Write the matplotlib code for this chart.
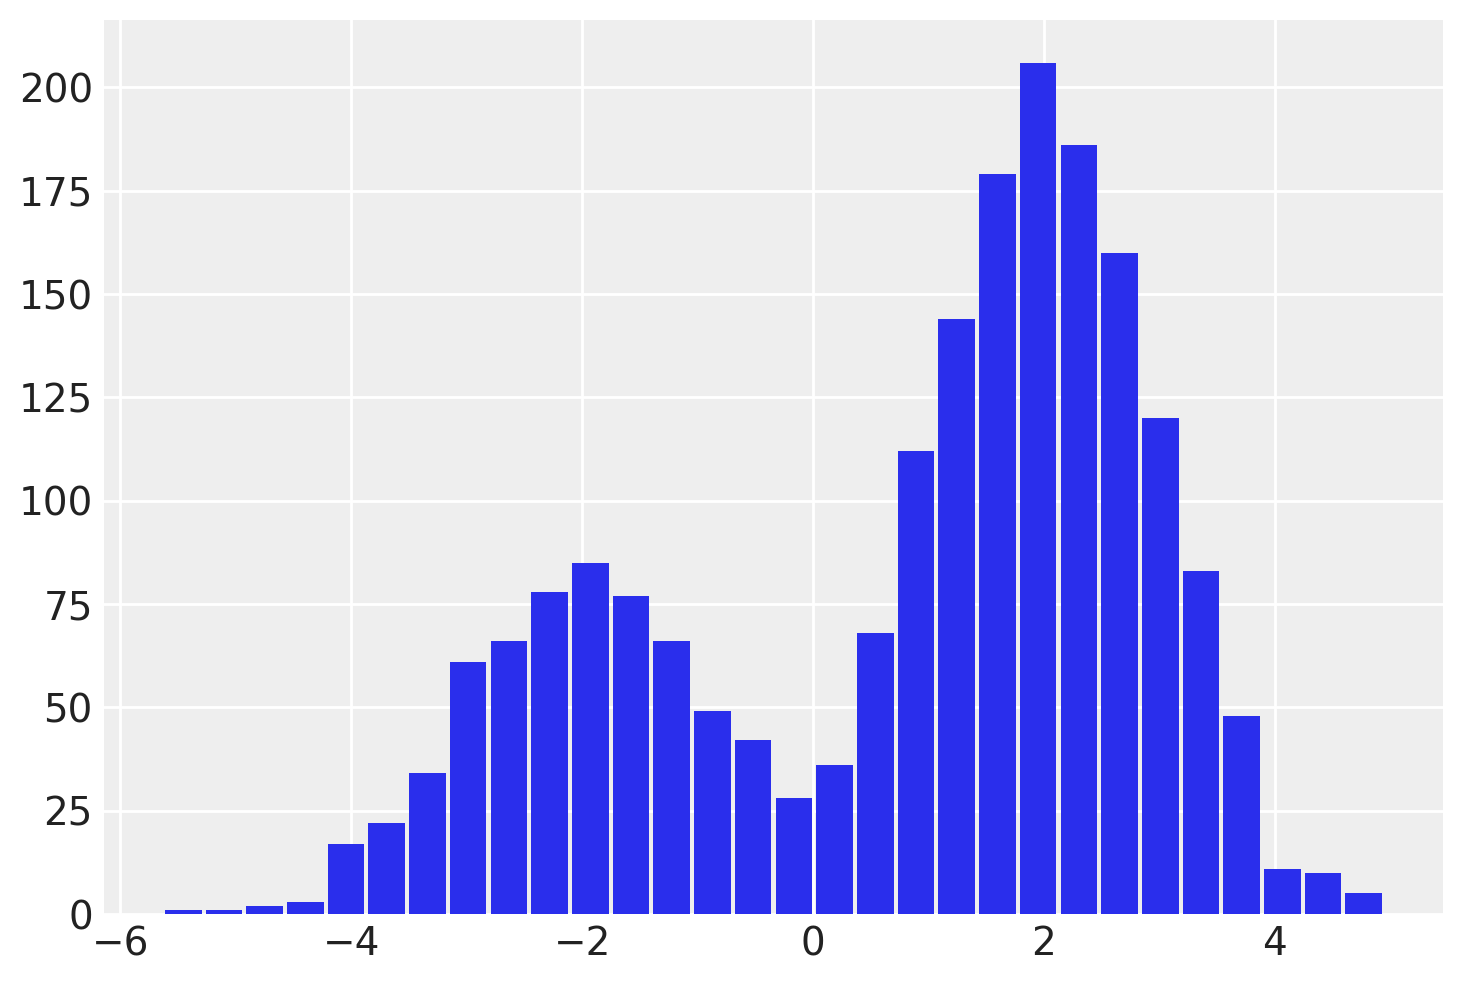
import numpy as np
import matplotlib
matplotlib.use("Agg")
import matplotlib.pyplot as plt

# histogram counts (30 bins)
counts = [1, 1, 2, 3, 17, 22, 34, 61, 66, 78, 85, 77, 66, 49, 42,
          28, 36, 68, 112, 144, 179, 206, 186, 160, 120, 83, 48, 11, 10, 5]
x_min = -5.632
x_max = 4.948

edges = np.linspace(x_min, x_max, len(counts) + 1)
centers = (edges[:-1] + edges[1:]) / 2

plt.rcParams['font.family'] = ['DejaVu Sans']
plt.rcParams['font.size'] = 14

fig = plt.figure(figsize=(7.315, 4.915), dpi=200)
ax = fig.add_axes([104 / 1463, 1 - 914 / 983, (1443 - 104) / 1463, (914 - 20) / 983])
ax.set_facecolor('#eeeeee')
ax.set_axisbelow(True)
ax.grid(True, color='white', linewidth=1.0)
for s in ax.spines.values():
    s.set_visible(False)

ax.hist(centers, bins=edges, weights=counts, rwidth=0.9, color='#2a2eec')

ax.tick_params(axis='both', length=0, labelsize=14, labelcolor='#222222', pad=4)
ax.set_yticks([0, 25, 50, 75, 100, 125, 150, 175, 200])
ax.set_xticks([-6, -4, -2, 0, 2, 4])

fig.savefig('out.png', dpi=200)
